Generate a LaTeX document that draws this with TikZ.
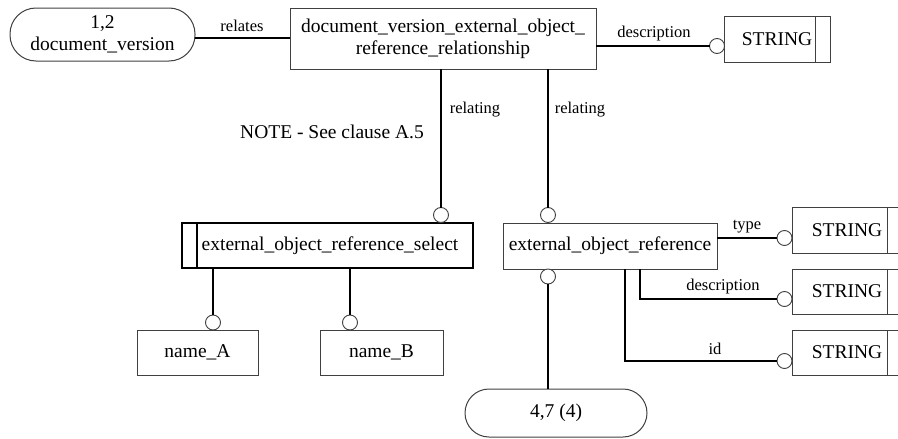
\documentclass[tikz,border=0pt]{standalone}
\usepackage{fontspec}
\setmainfont{Liberation Serif}
\begin{document}
\begin{tikzpicture}[x=1pt,y=-1pt,
  every node/.style={inner sep=0pt,outer sep=0pt},
  entity/.style={draw=black!75,line width=1pt,font=\fontsize{19.5}{22}\selectfont,align=center},
  typebox/.style={entity},
  selbox/.style={draw=black,line width=2.8pt,font=\fontsize{19.5}{22}\selectfont},
  refbox/.style={entity,rounded corners=24pt},
  ring/.style={circle,draw=black!75,line width=0.9pt,fill=white,minimum size=15pt},
  link/.style={line width=2.8pt},
  lbl/.style={font=\fontsize{16.5}{19}\selectfont},
  big/.style={font=\fontsize{19.5}{22}\selectfont}]
\useasboundingbox (0,0) rectangle (898,439);
\clip (0,0) rectangle (898,439);

% entities
\node[refbox,minimum width=185pt,minimum height=53pt,rounded corners=26pt] (dv) at (102.5,34.5) {1,2\\document\_version};
\node[entity,minimum width=306pt,minimum height=61pt] (rel) at (443,38.5)
  {document\_version\_external\_object\_\\reference\_relationship};
\node[typebox,minimum width=106pt,minimum height=46pt] (s0) at (777,39) {STRING};
\draw[draw=black!75,line width=1pt] (815,16) -- (815,62);

\node[selbox,minimum width=291pt,minimum height=45pt] (sel) at (327.5,245.5) {};
\node[big] at (330,245.5) {external\_object\_reference\_select};
\draw[line width=2.8pt] (197,223) -- (197,268);

\node[entity,minimum width=214pt,minimum height=46pt] (eor) at (610,246) {external\_object\_reference};
\node[entity,minimum width=121pt,minimum height=45pt] (na) at (197.5,352.5) {name\_A};
\node[entity,minimum width=123pt,minimum height=45pt] (nb) at (381.5,352.5) {name\_B};

\node[typebox,minimum width=110pt,minimum height=46pt] (s1) at (847,230) {STRING};
\node[typebox,minimum width=110pt,minimum height=45pt] (s2) at (847,291.5) {STRING};
\node[typebox,minimum width=110pt,minimum height=45pt] (s3) at (847,352.5) {STRING};
\foreach \n in {s1,s2,s3}
  \draw[draw=black!75,line width=1pt] (887,0 |- \n.north) -- (887,0 |- \n.south);

\node[refbox,minimum width=182pt,minimum height=48pt] (r47) at (556,413) {4,7 (4)};

% rings
\node[ring] (c0) at (717,46) {};
\node[ring] (c1) at (441,215) {};
\node[ring] (c2) at (548,215) {};
\node[ring] (ca) at (213,322.5) {};
\node[ring] (cb) at (350,322.5) {};
\node[ring] (c3) at (548,276.5) {};
\node[ring] (ct) at (784.5,238) {};
\node[ring] (cd) at (784.5,299) {};
\node[ring] (ci) at (784.5,361) {};

% connectors
\draw[link] (dv.east |- 0,38) -- (rel.west |- 0,38);
\draw[link] (rel.east |- c0) -- (c0.west);
\draw[link] (rel.south -| c1) -- (c1.north);
\draw[link] (rel.south -| c2) -- (c2.north);
\draw[link] (sel.south -| ca) -- (ca.north);
\draw[link] (sel.south -| cb) -- (cb.north);
\draw[link] (c3.south) -- (r47.north -| c3);
\draw[link] (eor.east |- ct) -- (ct.west);
\draw[link] (eor.south -| 640,0) |- (cd.west);
\draw[link] (eor.south -| 625,0) |- (ci.west);

% labels
\node[lbl] at (242,26) {relates};
\node[lbl] at (654,34) {description};
\node[lbl] at (475,110) {relating};
\node[lbl] at (580,110) {relating};
\node[big] at (332,132) {NOTE - See clause A.5};
\node[lbl] at (747,227) {type};
\node[lbl] at (723,287) {description};
\node[lbl] at (715,349) {id};
\end{tikzpicture}
\end{document}
